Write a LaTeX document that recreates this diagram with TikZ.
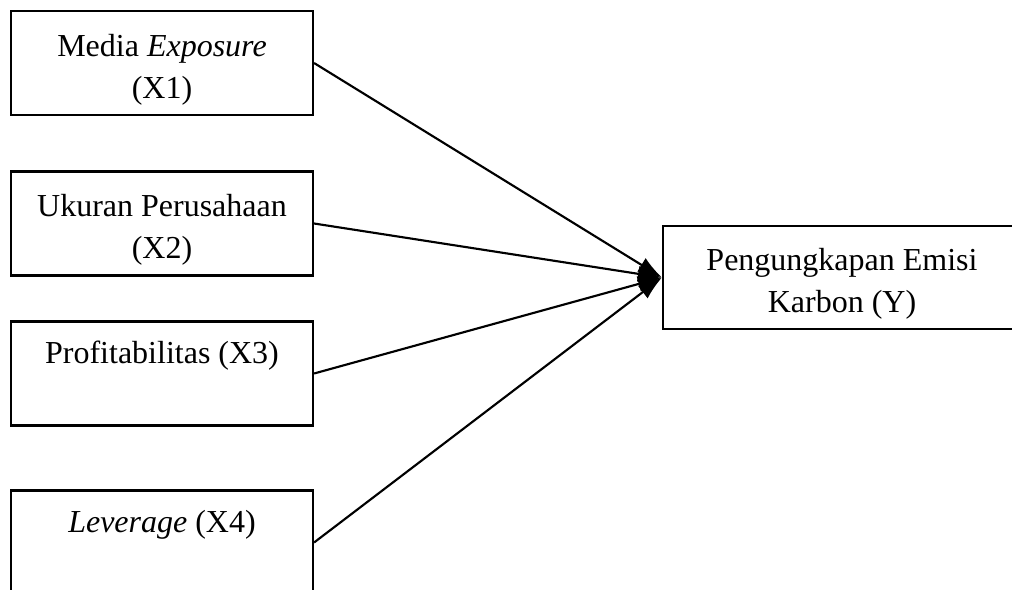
\documentclass[tikz,border=0pt]{standalone}
\usepackage{fontspec}
\setmainfont{Liberation Serif}
\usetikzlibrary{arrows.meta}

\begin{document}
\begin{tikzpicture}[x=0.375pt,y=-0.375pt,
    every node/.style={draw,line width=0.8pt,align=center,font=\fontsize{12pt}{15.8pt}\selectfont,inner sep=0pt,text height=29pt},
    varbox/.style={minimum width=113.25pt,minimum height=39pt},
    ybox/.style={minimum width=134.25pt,minimum height=38.6pt},
    arw/.style={line width=0.8pt,-{Latex[length=9pt,width=6pt]}}]
  \useasboundingbox (0,0) rectangle (1012,589);
  \clip (0,0) rectangle (1012,589);
  \node[varbox] (MediaExposure) at (162,63) {Media \textit{Exposure}\\(X1)};
  \node[varbox] at (162,223.5) (UkuranPerusahaan) {Ukuran Perusahaan\\(X2)};
  \node[varbox] at (162,373.5) (Profitabilitas) {Profitabilitas (X3)\\\strut};
  \node[varbox] at (162,542.5) (Leverage) {\textit{Leverage} (X4)\\\strut};
  \node[ybox] at (842,277.5) (Emisi) {Pengungkapan Emisi\\Karbon (Y)};
  \draw[arw] (MediaExposure.east) -- (Emisi.west);
  \draw[arw] (UkuranPerusahaan.east) -- (Emisi.west);
  \draw[arw] (Profitabilitas.east) -- (Emisi.west);
  \draw[arw] (Leverage.east) -- (Emisi.west);
\end{tikzpicture}
\end{document}
